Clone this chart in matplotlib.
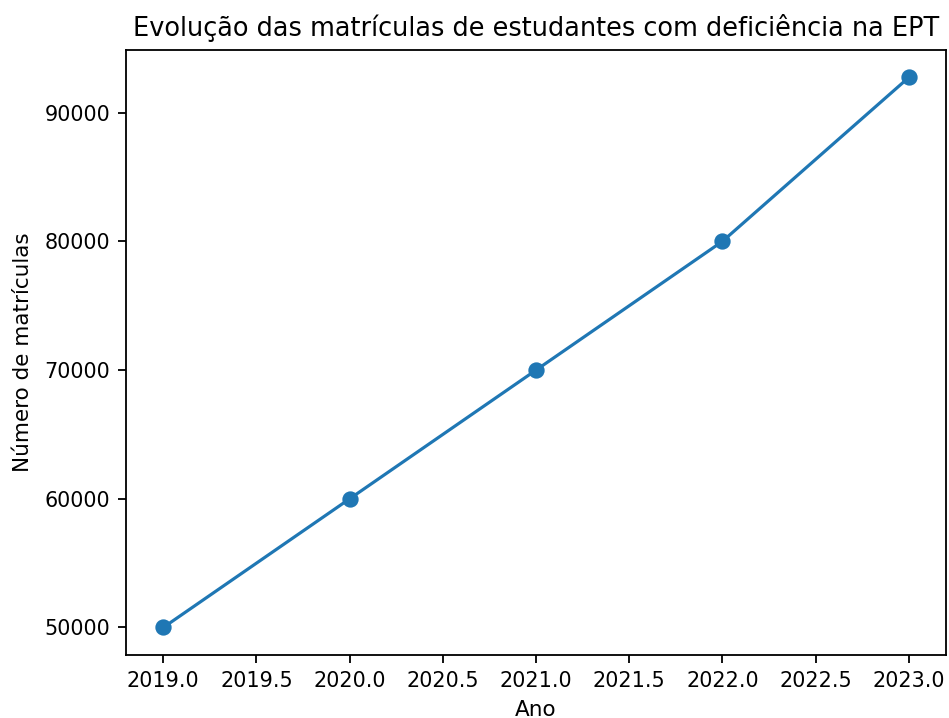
import matplotlib
matplotlib.use("Agg")
import matplotlib.pyplot as plt

anos = [2019, 2020, 2021, 2022, 2023]
matriculas = [50000, 60000, 70000, 80000, 92736]

plt.rcParams["font.family"] = ["DejaVu Sans"]
plt.rcParams["xtick.labelsize"] = 9.2
plt.rcParams["ytick.labelsize"] = 9.2

DPI = 163
W, H = 949, 718
fig = plt.figure(figsize=(W / DPI, H / DPI), dpi=DPI)
ax = fig.add_axes([126 / W, (H - 655) / H, (946 - 126) / W, (655 - 50) / H])
ax.plot(anos, matriculas, marker="o", linewidth=1.4, markersize=6.2)
ax.set_title("Evolução das matrículas de estudantes com deficiência na EPT", fontsize=11.3)
ax.set_xlabel("Ano", fontsize=9.5)
ax.set_ylabel("Número de matrículas", fontsize=9.5, labelpad=5)
fig.savefig("out.png", dpi=DPI)
